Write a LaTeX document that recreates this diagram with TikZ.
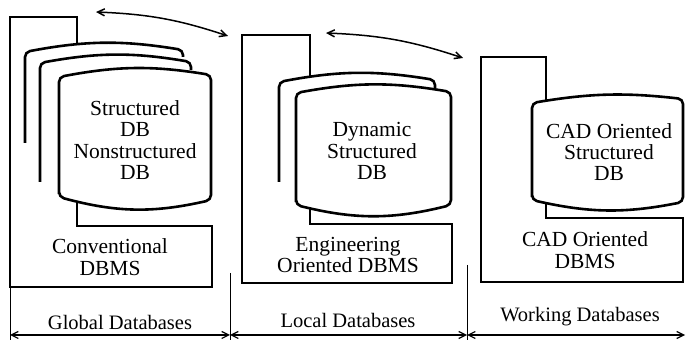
\documentclass[tikz,border=0pt]{standalone}
\usepackage{fontspec}
\setmainfont{Liberation Serif}
\usetikzlibrary{arrows.meta}

\begin{document}
\begin{tikzpicture}[
    x=1pt, y=1pt,
    >={Straight Barb[length=7pt,width=7pt]},
    every node/.style={font=\fontsize{21.5}{21.3}\selectfont, align=center, inner sep=0pt},
    lbl/.style={font=\fontsize{20.5}{21}\selectfont},
    frame/.style={draw, line width=2.6pt, fill=white},
    screen/.style={draw, line width=2.6pt, fill=white, rounded corners=5pt},
    stack/.style={draw, line width=2.6pt, rounded corners=5pt},
    dim/.style={<->, line width=1.2pt},
    tick/.style={line width=1pt},
    swap/.style={<->, line width=1.5pt},
  ]
    \useasboundingbox (0,0) rectangle (686,340);

    % --- Global databases ---
    \draw[frame] (10,323) -- (77,323) -- (77,114) -- (212,114) -- (212,53) -- (10,53) -- cycle;
    \fill[white, rounded corners=5pt] (25,197) -- (25,288) to[bend left=10] (183,290) -- (183,197) -- cycle;
    \draw[stack] (25,197) -- (25,288) to[bend left=10] (183,290) -- (183,283);
    \fill[white, rounded corners=5pt] (40,158) -- (40,277) to[bend left=10] (191,278) -- (191,158) -- cycle;
    \draw[stack] (40,158) -- (40,277) to[bend left=10] (191,278) -- (191,270);
    \draw[screen] (59,143) -- (59,263) to[bend left=10] (211,265) -- (211,140) to[bend left=14] (59,143) -- cycle;
    \node (gdb)   at (135,200) {Structured\\DB\\Nonstructured\\DB};
    \node (gdbms) at (110,83)  {Conventional\\DBMS};

    % --- Local databases ---
    \draw[frame] (242,305) -- (310,305) -- (310,116) -- (452,116) -- (452,57) -- (242,57) -- cycle;
    \fill[white, rounded corners=5pt] (279,158) -- (279,258) to[bend left=10] (435,260) -- (435,158) -- cycle;
    \draw[stack] (279,158) -- (279,258) to[bend left=10] (435,260) -- (435,252);
    \draw[screen] (296,135) -- (296,247) to[bend left=10] (451,248) -- (451,135) to[bend left=14] (296,135) -- cycle;
    \node (ldb)   at (372,189) {Dynamic\\Structured\\DB};
    \node (ldbms) at (348,85)  {Engineering\\Oriented DBMS};

    % --- Working databases ---
    \draw[frame] (481,283) -- (546,283) -- (546,122) -- (683,122) -- (683,58) -- (481,58) -- cycle;
    \draw[screen] (532,140) -- (532,237) to[bend left=8] (683,241) -- (683,138) to[bend left=12] (532,140) -- cycle;
    \node (wdb)   at (609,188) {CAD Oriented\\Structured\\DB};
    \node (wdbms) at (585,90)  {CAD Oriented\\DBMS};

    % --- Exchange arrows ---
    \coordinate (g2l) at (96,328);
    \coordinate (l2g) at (228,304);
    \coordinate (l2w) at (326,307);
    \coordinate (w2l) at (463,282);
    \draw[swap] (g2l) to[bend left=8] (l2g);
    \draw[swap] (l2w) to[bend left=8] (w2l);

    % --- Scale at bottom ---
    \coordinate (s0) at (10,5);
    \coordinate (s1) at (230,5);
    \coordinate (s2) at (467,5);
    \coordinate (s3) at (685,5);
    \draw[tick] (10,53) -- (10,0);
    \draw[tick] (230,67) -- (230,0);
    \draw[tick] (467,75) -- (467,0);
    \draw[dim] (s0) -- (s1);
    \draw[dim] (s1) -- (s2);
    \draw[dim] (s2) -- (s3);
    \node[lbl] (glbl) at (120,18) {Global Databases};
    \node[lbl] (llbl) at (348,20) {Local Databases};
    \node[lbl] (wlbl) at (580,23) {Working Databases};
  \end{tikzpicture}
\end{document}
